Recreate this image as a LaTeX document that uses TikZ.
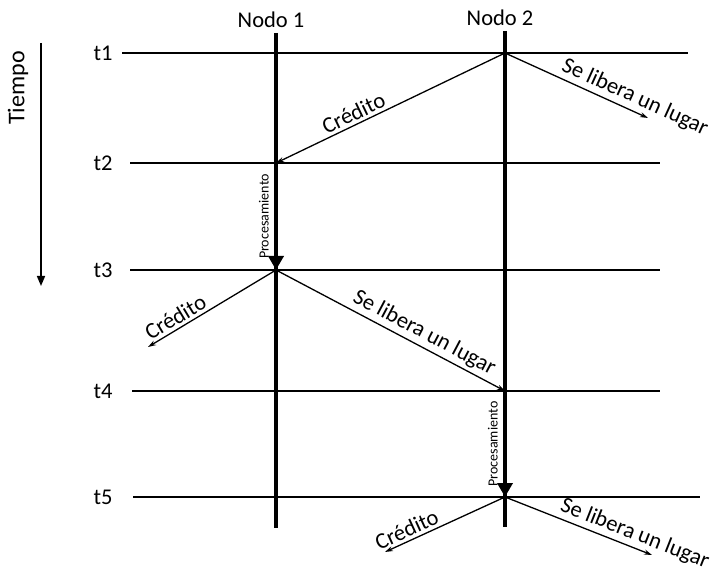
\documentclass[tikz,border=0pt]{standalone}
\usepackage{fontspec}
\setmainfont{Carlito}
\usepackage{tikz}
\usetikzlibrary{arrows.meta}

\begin{document}
\begin{tikzpicture}[
  x=1pt, y=-1pt,
  font=\fontsize{22.5}{27}\selectfont,
  timeline/.style={line width=1.3pt},
  nodeline/.style={line width=4.5pt},
  msg/.style={-{Stealth[length=8pt,width=5pt]}, line width=1.3pt},
  proc/.style={-{Triangle[length=14pt,width=15pt]}, line width=4.5pt},
  msglabel/.style={sloped, above, inner sep=3pt},
  proclabel/.style={font=\fontsize{14}{16}\selectfont, rotate=90, above, inner sep=5pt}
]
\useasboundingbox (0,0) rectangle (715,585);

% Time axis
\node[rotate=90, font=\fontsize{24}{28}\selectfont] (tiempo) at (18,88) {Tiempo};
\coordinate (tstart) at (41,43);
\coordinate (tend) at (41,286);
\draw[-{Triangle[length=10pt,width=8pt]}, line width=1.5pt] (tstart) -- (tend);

% Time lines
\foreach \name/\y/\xl/\xr in {t1/53/122/688, t2/163/130/660, t3/270/130/660,
                              t4/391/132/660, t5/497/133/700} {
  \node (\name) at (103,\y) {\name};
  \coordinate (\name start) at (\xl,\y);
  \coordinate (\name end) at (\xr,\y);
  \draw[timeline] (\name start) -- (\name end);
}

% Nodes
\node (nodo1) at (271,20) {Nodo 1};
\node (nodo2) at (500,18) {Nodo 2};
\coordinate (n1top) at (276,33);
\coordinate (n1bot) at (276,528);
\coordinate (n2top) at (505,31);
\coordinate (n2bot) at (505,527);
\draw[nodeline] (n1top) -- (n1bot);
\draw[nodeline] (n2top) -- (n2bot);

% Events on the node lines
\coordinate (n2t1) at (505,53);
\coordinate (n1t2) at (276,163);
\coordinate (n1t3) at (276,270);
\coordinate (n2t4) at (505,391);
\coordinate (n2t5) at (505,497);

% Free ends of the messages
\coordinate (libre1) at (648,118);
\coordinate (cred2) at (148,347);
\coordinate (cred3) at (385,552);
\coordinate (libre3) at (652,555);

% Processing
\draw[proc] (n1t2) -- node[midway, proclabel] {Procesamiento} (n1t3);
\draw[proc] (n2t4) -- node[midway, proclabel] {Procesamiento} (n2t5);

% Messages
\draw[msg] (n2t1) -- node[pos=0.64, msglabel] {Crédito} (n1t2);
\draw[msg] (n2t1) -- node[pos=0.87, msglabel] {Se libera un lugar} (libre1);
\draw[msg] (n1t3) -- node[pos=0.74, msglabel] {Crédito} (cred2);
\draw[msg] (n1t3) -- node[pos=0.62, msglabel] {Se libera un lugar} (n2t4);
\draw[msg] (n2t5) -- node[pos=0.78, msglabel] {Crédito} (cred3);
\draw[msg] (n2t5) -- node[pos=0.85, msglabel] {Se libera un lugar} (libre3);

\end{tikzpicture}
\end{document}
